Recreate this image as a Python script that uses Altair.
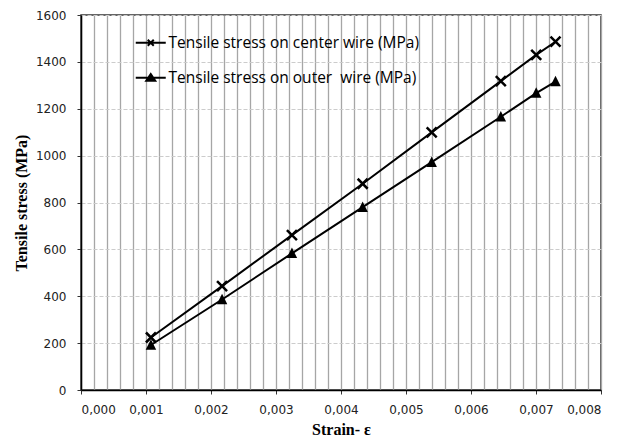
import altair as alt
import pandas as pd

# ---- data ----
strain = [0.001076, 0.00217, 0.003245, 0.004333, 0.005395, 0.006459, 0.007003, 0.0073]
stress_center = [224, 443, 661, 880, 1099, 1318, 1430, 1486]
stress_outer = [192, 386, 583, 780, 972, 1166, 1267, 1316]
series_names = ["Tensile stress on center wire (MPa)", "Tensile stress on outer \u00a0wire (MPa)"]
x_ticks = [round(i * 0.0002, 4) for i in range(41)]
y_ticks = [0, 200, 400, 600, 800, 1000, 1200, 1400, 1600]

rows = []
for s, c in zip(strain, stress_center):
    rows.append({"strain": s, "stress": c, "series": series_names[0]})
for s, o in zip(strain, stress_outer):
    rows.append({"strain": s, "stress": o, "series": series_names[1]})
df = pd.DataFrame(rows)

X_PATH = "M-1,-1L1,1M1,-1L-1,1"
TRI_PATH = "M0,-1.1L1,0.9L-1,0.9Z"
LEG_X = "M-3,0L3,0M-0.6,-0.6L0.6,0.6M0.6,-0.6L-0.6,0.6"
LEG_TRI = "M-3,0L3,0M0,-0.75L0.9,0.6L-0.9,0.6ZM0,-0.3L0.45,0.4L-0.45,0.4Z"

major_test = "abs(datum.value*1000 - round(datum.value*1000)) < 0.001"

x_enc = alt.X(
    "strain:Q",
    scale=alt.Scale(domain=[0, 0.008], nice=False, zero=False),
    title="Strain- ε",
    axis=alt.Axis(
        values=x_ticks,
        grid=True,
        gridColor="#a6a6a6",
        gridWidth=1.3,
        tickOpacity={"condition": {"test": major_test, "value": 1}, "value": 0},
        tickSize=4,
        tickColor="#333",
        labelExpr=f"{major_test} ? replace(format(datum.value, '.3f'), '.', ',') : ''",
        labelFont="DejaVu Sans",
        labelFontSize=12,
        labelColor="#222",
        labelPadding=10,
        labelOverlap=False,
        domainColor="black",
        domainWidth=1.5,
        titleFont="Liberation Serif",
        titleFontSize=16,
        titleFontWeight="bold",
        titleColor="black",
        titlePadding=6,
    ),
)
y_enc = alt.Y(
    "stress:Q",
    scale=alt.Scale(domain=[0, 1600], nice=False),
    title="Tensile stress (MPa)",
    axis=alt.Axis(
        values=y_ticks,
        format="d",
        grid=True,
        gridColor="#cccccc",
        gridDash=[4, 2],
        gridWidth=1.2,
        tickSize=4,
        tickColor="#333",
        labelFont="DejaVu Sans",
        labelFontSize=12,
        labelColor="#222",
        labelPadding=11,
        domainColor="black",
        domainWidth=1.5,
        titleFont="Liberation Serif",
        titleFontSize=16,
        titleFontWeight="bold",
        titleColor="black",
        titlePadding=6,
    ),
)

base = alt.Chart(df)

lines = base.mark_line(color="black", strokeWidth=2).encode(x=x_enc, y=y_enc, detail="series:N")

pts_center = base.transform_filter(alt.datum.series == series_names[0]).mark_point(
    shape=X_PATH, size=100, filled=False, color="black", strokeWidth=2.5, opacity=1
).encode(x=x_enc, y=y_enc)

pts_outer = base.transform_filter(alt.datum.series == series_names[1]).mark_point(
    shape=TRI_PATH, size=110, filled=True, color="black", opacity=1
).encode(x=x_enc, y=y_enc)

legend_layer = base.mark_point(size=0, filled=False, color="black", strokeWidth=2).encode(
    x=x_enc,
    y=y_enc,
    shape=alt.Shape(
        "series:N",
        scale=alt.Scale(domain=series_names, range=[LEG_X, LEG_TRI]),
        legend=alt.Legend(
            title=None,
            orient="none",
            legendX=62,
            legendY=20,
            symbolSize=100,
            symbolStrokeWidth=2,
            symbolFillColor="black",
            symbolStrokeColor="black",
            symbolOpacity=1,
            labelFont="Open Sans",
            labelFontSize=15.5,
            labelColor="black",
            labelOffset=10,
            labelLimit=400,
            rowPadding=18,
            padding=0,
        ),
    ),
)

chart = alt.layer(lines, pts_center, pts_outer, legend_layer).properties(
    width=520,
    height=375,
    autosize="none",
    padding={"left": 73, "top": 7, "right": 20, "bottom": 48},
).configure_view(stroke="#333", strokeWidth=1.5)

chart.save("out.html", embed_options={"renderer": "svg", "actions": False})
